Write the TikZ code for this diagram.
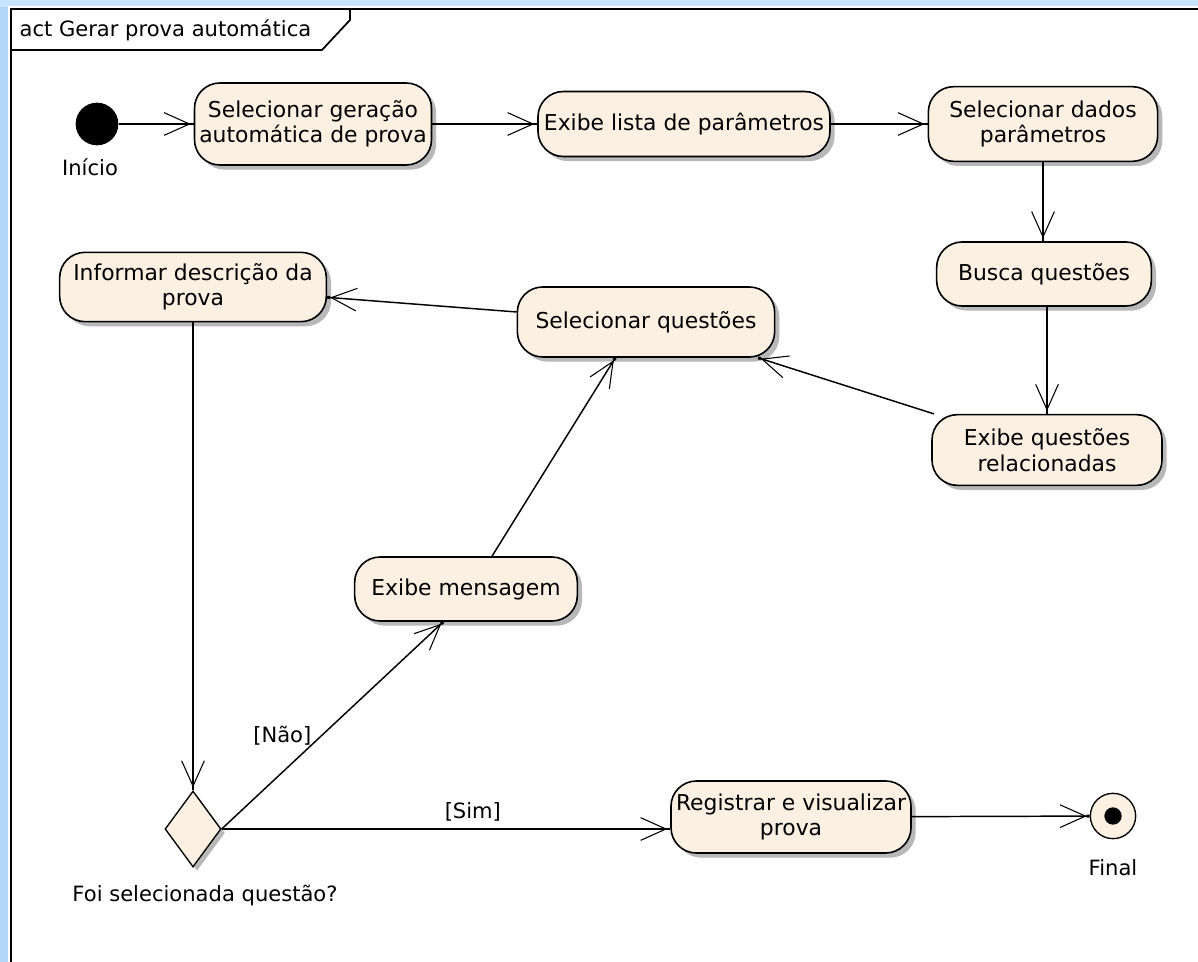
\documentclass[tikz,border=0pt]{standalone}
\usepackage{fontspec}
\setmainfont{DejaVu Sans}
\usetikzlibrary{arrows.meta,shapes.geometric,shadows}
\definecolor{actfill}{RGB}{251,240,226}
\definecolor{bgblue}{RGB}{178,214,248}
\definecolor{bgtop}{RGB}{198,228,252}
\tikzset{
  act/.style={draw=black, line width=1.2pt, fill=actfill, rounded corners=19pt,
    align=center, font=\fontsize{16.4}{19}\selectfont, inner sep=2pt,
    drop shadow={shadow xshift=3.5pt, shadow yshift=-3.5pt, fill=black!28, opacity=1}},
  flow/.style={line width=1.1pt,
    -{Straight Barb[length=19pt,width=17pt,line width=0.8pt] Square[length=2.2pt,width=2.2pt]}},
  lbl/.style={font=\fontsize{15.8}{19}\selectfont, inner sep=1pt}
}
\begin{document}
\begin{tikzpicture}[x=0.75pt,y=-0.75pt]
\useasboundingbox (0,0) rectangle (1198,962);
% background and frame
\fill[bgblue] (0,0) rectangle (1198,962);
\fill[bgtop] (0,0) rectangle (1198,7);
\fill[white] (8,6) rectangle (1210,975);
\draw[line width=1.8pt] (11,9) rectangle (1210,975);
\draw[line width=1.3pt] (11,50) -- (322,50) -- (350,20) -- (350,9);
\node[lbl, anchor=west] (title) at (18,30) {act Gerar prova automática};

% initial
\node[circle, fill=black, minimum size=32pt, inner sep=0pt] (ini) at (97,124) {};
\node[lbl] (inilbl) at (90,167) {Início};

% actions
\node[act, minimum width=177.75pt, minimum height=61.5pt] (a1) at (313,124) {Selecionar geração\\automática de prova};
\node[act, minimum width=219pt, minimum height=48.75pt] (a2) at (684,124) {Exibe lista de parâmetros};
\node[act, minimum width=172pt, minimum height=56pt] (a3) at (1043,124) {Selecionar dados\\parâmetros};
\node[act, minimum width=161pt, minimum height=48pt] (a4) at (1044,274) {Busca questões};
\node[act, minimum width=172.5pt, minimum height=53pt] (a5) at (1047,450) {Exibe questões\\relacionadas};
\node[act, minimum width=193pt, minimum height=52.5pt] (a6) at (646,322) {Selecionar questões};
\node[act, minimum width=200pt, minimum height=52pt] (a7) at (193,287) {Informar descrição da\\prova};
\node[act, minimum width=167pt, minimum height=48pt] (a8) at (466,589) {Exibe mensagem};
\node[act, minimum width=180pt, minimum height=54pt] (a9) at (791,817) {Registrar e visualizar\\prova};

% decision
\node[diamond, draw=black, line width=1pt, fill=actfill, minimum width=42pt, minimum height=57pt, inner sep=0pt,
  drop shadow={shadow xshift=3pt, shadow yshift=-3pt, fill=black!28, opacity=1}] (dec) at (193,829) {};
\node[lbl] (declbl) at (205,895) {Foi selecionada questão?};

% final
\node[circle, draw=black, line width=1pt, fill=actfill, minimum size=34pt, inner sep=0pt,
  path picture={\fill[black] (path picture bounding box.center) circle (6.5pt);}] (fin) at (1113,816) {};
\node[lbl] (finlbl) at (1113,868) {Final};

% flows
\draw[flow] (ini) -- (a1);
\draw[flow] (a1) -- (a2);
\draw[flow] (a2) -- (a3);
\draw[flow] (a3) -- (a3 |- a4.north);
\draw[flow] (a4.south -| a5) -- (a5);
\draw[flow] (a5) -- (a6);
\draw[flow] (a6) -- (a7);
\draw[flow] (a7) -- (dec);
\draw[flow] (dec.east) -- ([xshift=-17pt]a8.south) node[lbl, pos=0.45, left=6pt] (nao) {[Não]};
\draw[flow] ([xshift=19.5pt]a8.north) -- ([xshift=-23pt]a6.south);
\draw[flow] (dec.east) -- (dec.east -| a9.west) node[lbl, pos=0.56, above=4pt] (sim) {[Sim]};
\draw[flow] (a9) -- (fin);
\end{tikzpicture}
\end{document}
